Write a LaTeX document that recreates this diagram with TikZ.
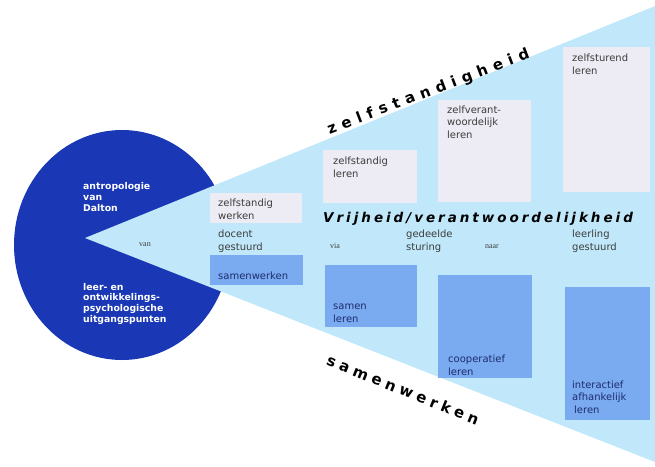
\documentclass[tikz,border=0pt]{standalone}
\usepackage{fontspec}
\setmainfont{DejaVu Sans}
\newfontfamily\smallserif{Liberation Serif}
\newfontfamily\midspaced[LetterSpace=22]{DejaVu Sans}
\newfontfamily\upspaced[LetterSpace=40]{DejaVu Sans}
\newfontfamily\downspaced[LetterSpace=30]{DejaVu Sans}
\definecolor{circleblue}{RGB}{26,56,182}
\definecolor{fanblue}{RGB}{192,232,250}
\definecolor{palebox}{RGB}{237,235,244}
\definecolor{bluebox}{RGB}{122,170,240}
\definecolor{navytext}{RGB}{30,45,110}
\definecolor{graytext}{RGB}{60,60,60}
\tikzset{
  palerect/.style={fill=palebox, draw=none, anchor=north west, inner sep=0pt},
  bluerect/.style={fill=bluebox, draw=none, anchor=north west, inner sep=0pt},
  boxtext/.style={anchor=base west, inner sep=0pt, align=left, text=graytext, font=\fontsize{10}{12.3}\selectfont},
  bluetext/.style={boxtext, text=navytext},
  steertext/.style={boxtext, text=graytext},
  tinytext/.style={inner sep=0pt, text=graytext, font=\smallserif\fontsize{8}{9}\selectfont},
  circletext/.style={anchor=base west, inner sep=0pt, align=left, text=white, font=\bfseries\fontsize{9.3}{10.6}\selectfont},
  bigaxis/.style={inner sep=0pt, text=black, font=\midspaced\bfseries\itshape\fontsize{13.5}{15}\selectfont},
  upslant/.style={inner sep=0pt, text=black, font=\upspaced\bfseries\fontsize{15}{16}\selectfont},
  downslant/.style={inner sep=0pt, text=black, font=\downspaced\bfseries\fontsize{15}{16}\selectfont}
}
\begin{document}
\begin{tikzpicture}[x=1pt,y=-1pt]
\useasboundingbox (0,0) rectangle (655,466);
% circle with wedge
\fill[circleblue] (122,245) ellipse [x radius=108, y radius=115];
\fill[fanblue] (85,238) -- (655,6) -- (655,462) -- cycle;
% pale boxes (top row)
\node[palerect, minimum width=92, minimum height=30] (zw) at (210,193) {};
\node[palerect, minimum width=94, minimum height=53] (zl) at (323,150) {};
\node[palerect, minimum width=93, minimum height=102] (zv) at (438,100) {};
\node[palerect, minimum width=87, minimum height=145] (zs) at (563,47) {};
% blue boxes (bottom row)
\node[bluerect, minimum width=93, minimum height=30] (sw) at (210,255) {};
\node[bluerect, minimum width=92, minimum height=62] (sl) at (325,265) {};
\node[bluerect, minimum width=94, minimum height=103] (cl) at (438,275) {};
\node[bluerect, minimum width=85, minimum height=133] (il) at (565,287) {};
% box texts (anchor = baseline of last line)
\node[boxtext] (zwt) at (218,219) {zelfstandig\\werken};
\node[boxtext] (zlt) at (333,177) {zelfstandig\\leren};
\node[boxtext] (zvt) at (447,138) {zelfverant-\\woordelijk\\leren};
\node[boxtext] (zst) at (572,74) {zelfsturend\\leren};
\node[bluetext] (swt) at (218,279) {samenwerken};
\node[bluetext] (slt) at (333,322) {samen\\leren};
\node[bluetext] (clt) at (448,375) {cooperatief\\leren};
\node[bluetext] (ilt) at (572,413) {interactief\\afhankelijk\\\hspace{2pt}leren};
% steering texts
\node[steertext] (dg) at (218,250) {docent\\gestuurd};
\node[steertext] (gs) at (406,250) {gedeelde\\sturing};
\node[steertext] (lg) at (572,250) {leerling\\gestuurd};
\node[tinytext] (van) at (145,245) {van};
\node[tinytext] (via) at (335,246) {via};
\node[tinytext] (naar) at (492,247) {naar};
% circle texts
\node[circletext] (antro) at (83,211) {antropologie\\van\\Dalton};
\node[circletext] (leer) at (83,322) {leer- en\\ontwikkelings-\\psychologische\\uitgangspunten};
% axis labels
\node[bigaxis, anchor=base west] (vrij) at (323,222) {Vrijheid/verantwoordelijkheid};
\node[upslant, anchor=base, rotate=21] (zelf) at (430,96) {zelfstandigheid};
\node[downslant, anchor=base, rotate=-22] (samen) at (401,395) {samenwerken};
\end{tikzpicture}
\end{document}
